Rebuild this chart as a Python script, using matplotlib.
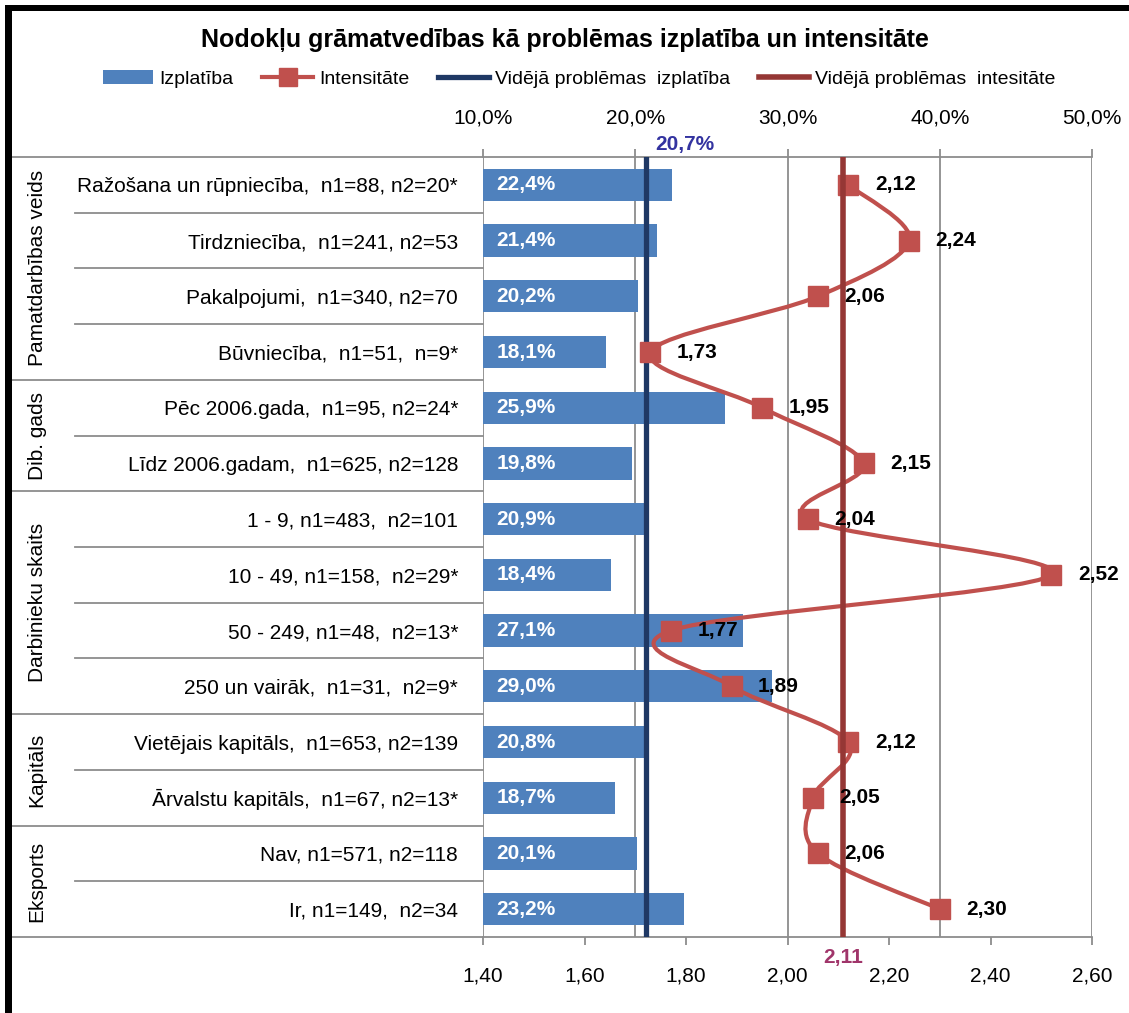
import numpy as np
import matplotlib
matplotlib.use('Agg')
import matplotlib.pyplot as plt
import matplotlib.transforms as mtransforms
from matplotlib.path import Path
from matplotlib.patches import PathPatch, Patch, Rectangle
from matplotlib.lines import Line2D

plt.rcParams['font.family'] = ['Liberation Sans Narrow', 'Liberation Sans', 'DejaVu Sans']

# data
categories = [
    'Ražošana un rūpniecība,  n1=88, n2=20*',
    'Tirdzniecība,  n1=241, n2=53',
    'Pakalpojumi,  n1=340, n2=70',
    'Būvniecība,  n1=51,  n=9*',
    'Pēc 2006.gada,  n1=95, n2=24*',
    'Līdz 2006.gadam,  n1=625, n2=128',
    '1 - 9, n1=483,  n2=101',
    '10 - 49, n1=158,  n2=29*',
    '50 - 249, n1=48,  n2=13*',
    '250 un vairāk,  n1=31,  n2=9*',
    'Vietējais kapitāls,  n1=653, n2=139',
    'Ārvalstu kapitāls,  n1=67, n2=13*',
    'Nav, n1=571, n2=118',
    'Ir, n1=149,  n2=34',
]
groups = ['Pamatdarbības veids', 'Dib. gads', 'Darbinieku skaits', 'Kapitāls', 'Eksports']
group_sizes = [4, 2, 4, 2, 2]
izplatiba = [22.4, 21.4, 20.2, 18.1, 25.9, 19.8, 20.9, 18.4, 27.1, 29.0, 20.8, 18.7, 20.1, 23.2]
intensitate = [2.12, 2.24, 2.06, 1.73, 1.95, 2.15, 2.04, 2.52, 1.77, 1.89, 2.12, 2.05, 2.06, 2.30]
avg_izplatiba = 20.7
avg_intensitate = 2.11
pct_ticks = [10, 20, 30, 40, 50]
int_ticks = [1.40, 1.60, 1.80, 2.00, 2.20, 2.40, 2.60]

bar_color = '#4F81BD'
line_color = '#C0504D'
navy = '#1F3864'
dark_red = '#953735'
grid_gray = '#8c8c8c'


def comma(s):
    return s.replace('.', ',')


def smooth_path(xs, ys):
    # bezier curve through the points, like Excel's smoothed line
    pts = np.column_stack([xs, ys]).astype(float)
    n = len(pts)
    verts = [pts[0]]
    codes = [Path.MOVETO]
    for i in range(n - 1):
        p0 = pts[i - 1] if i > 0 else pts[i]
        p1 = pts[i]
        p2 = pts[i + 1]
        p3 = pts[i + 2] if i + 2 < n else pts[i + 1]
        verts += [p1 + (p2 - p0) / 6, p2 - (p3 - p1) / 6, p2]
        codes += [Path.CURVE4] * 3
    return Path(verts, codes)


W, H = 1129, 1013
fig = plt.figure(figsize=(W / 100, H / 100), dpi=100)
ax = fig.add_axes([483 / W, 1 - 937 / H, 609 / W, 780 / H])
ax2 = ax.twiny()

rows = np.arange(len(categories))

# bars (start at 10 %)
ax.barh(rows, [v - pct_ticks[0] for v in izplatiba], left=pct_ticks[0],
        height=0.58, color=bar_color, zorder=2)
for i, v in enumerate(izplatiba):
    ax.text(pct_ticks[0] + 0.9, i, comma(f'{v:.1f}%'), color='white',
            fontsize=15, fontweight='bold', va='center', ha='left', zorder=5)

ax.axvline(avg_izplatiba, color=navy, lw=3.8, zorder=3)
ax.annotate(comma(f'{avg_izplatiba:.1f}%'), (avg_izplatiba, 1), xycoords=('data', 'axes fraction'),
            xytext=(7, 2), textcoords='offset points', ha='left', va='bottom',
            color='#3333A0', fontsize=15, fontweight='bold')

ax.set_xlim(pct_ticks[0], pct_ticks[-1])
ax.set_ylim(len(categories) - 0.5, -0.5)
ax.set_xticks(pct_ticks)
ax.set_xticklabels([comma(f'{t:.1f}%') for t in pct_ticks])
ax.xaxis.tick_top()
ax.tick_params(axis='x', top=True, bottom=False, labeltop=True, labelbottom=False,
               length=6, color=grid_gray, width=1.3, pad=15, labelsize=15)
ax.set_yticks(rows)
ax.set_yticklabels(categories, fontsize=15)
ax.tick_params(axis='y', length=0, pad=18)
ax.grid(axis='x', color=grid_gray, lw=1.3, zorder=0)
ax.set_axisbelow(True)
for s in ['left', 'right']:
    ax.spines[s].set_visible(False)
for s in ['top', 'bottom']:
    ax.spines[s].set_color(grid_gray)
    ax.spines[s].set_linewidth(1.3)

# category separators in the label area
trans = mtransforms.blended_transform_factory(ax.transAxes, ax.transData)
bounds = np.cumsum(group_sizes)
x_outer, x_inner = -0.777, -0.67
for b in range(len(categories) + 1):
    x0 = x_outer if (b == 0 or b in bounds) else x_inner
    ax.plot([x0, 0], [b - 0.5, b - 0.5], transform=trans, color=grid_gray, lw=1.3,
            clip_on=False, zorder=1)
start = 0
for name, size in zip(groups, group_sizes):
    ax.text(-0.732, start + size / 2 - 0.5, name, transform=trans, rotation=90,
            ha='center', va='center', fontsize=15)
    start += size

# intensity on a second x axis (bottom)
ax2.set_xlim(int_ticks[0], int_ticks[-1])
ax2.set_xticks(int_ticks)
ax2.set_xticklabels([comma(f'{t:.2f}') for t in int_ticks])
ax2.xaxis.tick_bottom()
ax2.tick_params(axis='x', bottom=True, top=False, labelbottom=True, labeltop=False,
                length=6, color=grid_gray, width=1.3, pad=15, labelsize=15)
for s in ax2.spines.values():
    s.set_visible(False)

ax2.add_patch(PathPatch(smooth_path(intensitate, rows), fill=False, ec=line_color,
                        lw=3, zorder=2, capstyle='round', joinstyle='round'))
ax2.plot(intensitate, rows, 's', color=line_color, ms=15, zorder=3)
ax2.axvline(avg_intensitate, color=dark_red, lw=4, zorder=4)
for i, v in enumerate(intensitate):
    ax2.annotate(comma(f'{v:.2f}'), (v, i), xytext=(19, 0), textcoords='offset points',
                 ha='left', va='center', fontsize=15, fontweight='bold', zorder=6)
ax2.annotate(comma(f'{avg_intensitate:.2f}'), (avg_intensitate, 0), xycoords=('data', 'axes fraction'),
             xytext=(0, -8), textcoords='offset points', ha='center', va='top',
             color='#A0356A', fontsize=15, fontweight='bold')

# title and legend
fig.text(0.5, 1 - 40 / H, 'Nodokļu grāmatvedības kā problēmas izplatība un intensitāte',
         ha='center', va='center', fontsize=18, fontweight='bold')
handles = [
    Patch(facecolor=bar_color),
    Line2D([], [], color=line_color, lw=3, marker='s', ms=13),
    Line2D([], [], color=navy, lw=3.8),
    Line2D([], [], color=dark_red, lw=4),
]
labels = ['Izplatība', 'Intensitāte', 'Vidējā problēmas  izplatība', 'Vidējā problēmas  intesitāte']
fig.legend(handles, labels, loc='center', bbox_to_anchor=(0.513, 1 - 79 / H), ncol=4,
           frameon=False, fontsize=14, handlelength=2.6, handletextpad=0.3,
           columnspacing=1.5)

# black frame on the left and top
fig.add_artist(Rectangle((5 / W, 0), 7 / W, 1 - 5 / H, transform=fig.transFigure,
                         color='black', lw=0))
fig.add_artist(Rectangle((5 / W, 1 - 11 / H), 1, 6 / H, transform=fig.transFigure,
                         color='black', lw=0))

fig.savefig('out.png', dpi=100)
